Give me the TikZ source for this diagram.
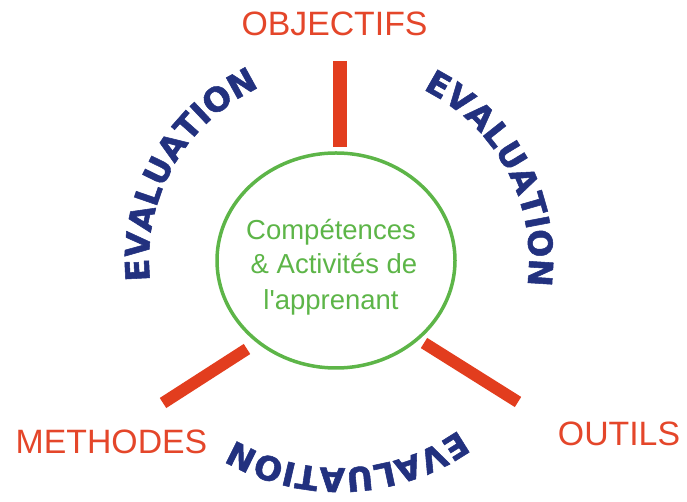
\documentclass[tikz,border=0pt]{standalone}
\usepackage{fontspec}
\setmainfont{Liberation Sans}
\newfontfamily\corefont{Liberation Sans}[Ligatures=TeXOff]
\newfontfamily\evalfont{DejaVu Sans}[BoldFeatures={FakeBold=1.6}]
\usetikzlibrary{shapes.geometric,decorations.text}
\definecolor{barred}{HTML}{E23D1E}
\definecolor{labred}{HTML}{E4462A}
\definecolor{coregreen}{HTML}{5DB548}
\definecolor{evalblue}{HTML}{22317F}
\tikzset{
  spoke/.style={draw=barred, line width=12pt, line cap=butt},
  outer/.style={text=labred, font=\fontsize{33.8}{33.8}\selectfont, anchor=base, inner sep=0pt},
  coretext/.style={text=coregreen, font=\corefont\fontsize{27.5}{27.5}\selectfont, anchor=base, inner sep=0pt},
  evalarc/.style={decorate, decoration={text along path, text align=center,
     text={|\evalfont\bfseries\fontsize{33}{33}\selectfont\color{evalblue}|EVALUATION}}}
}
\begin{document}
\begin{tikzpicture}[x=1pt,y=1pt]
\useasboundingbox (0,0) rectangle (687,502);
% core ellipse
\node[ellipse, draw=coregreen, line width=3.5pt, minimum width=238pt, minimum height=215pt, inner sep=0pt] (core) at (336,241.5) {};
\node[coretext] (c1) at (331,262) {Compétences};
\node[coretext] (c2) at (334,228) {\& Activités de};
\node[coretext] (c3) at (331,192) {l'apprenant};
% labels
\node[outer] (obj) at (334.5,466) {OBJECTIFS};
\node[outer] (met) at (111.5,48) {METHODES};
\node[outer] (out) at (619,56) {OUTILS};
% spokes
\coordinate (ta) at (340,441);
\coordinate (tb) at (340,355);
\coordinate (la) at (163,99);
\coordinate (lb) at (247,153);
\coordinate (ra) at (424,159);
\coordinate (rb) at (518,100);
\draw[spoke, line width=14pt] (ta) -- (tb);
\draw[spoke] (la) -- (lb);
\draw[spoke] (ra) -- (rb);
% evaluation arcs
\coordinate (ctr) at (339,242);
\path[evalarc] (ctr) ++(210.5:190) arc[start angle=210.5, end angle=90.5, radius=190];
\path[evalarc] (ctr) ++(88:190) arc[start angle=88, end angle=-32, radius=190];
\path[evalarc] (ctr) ++(-27.5:208) arc[start angle=-27.5, end angle=-147.5, radius=208];
\end{tikzpicture}
\end{document}
